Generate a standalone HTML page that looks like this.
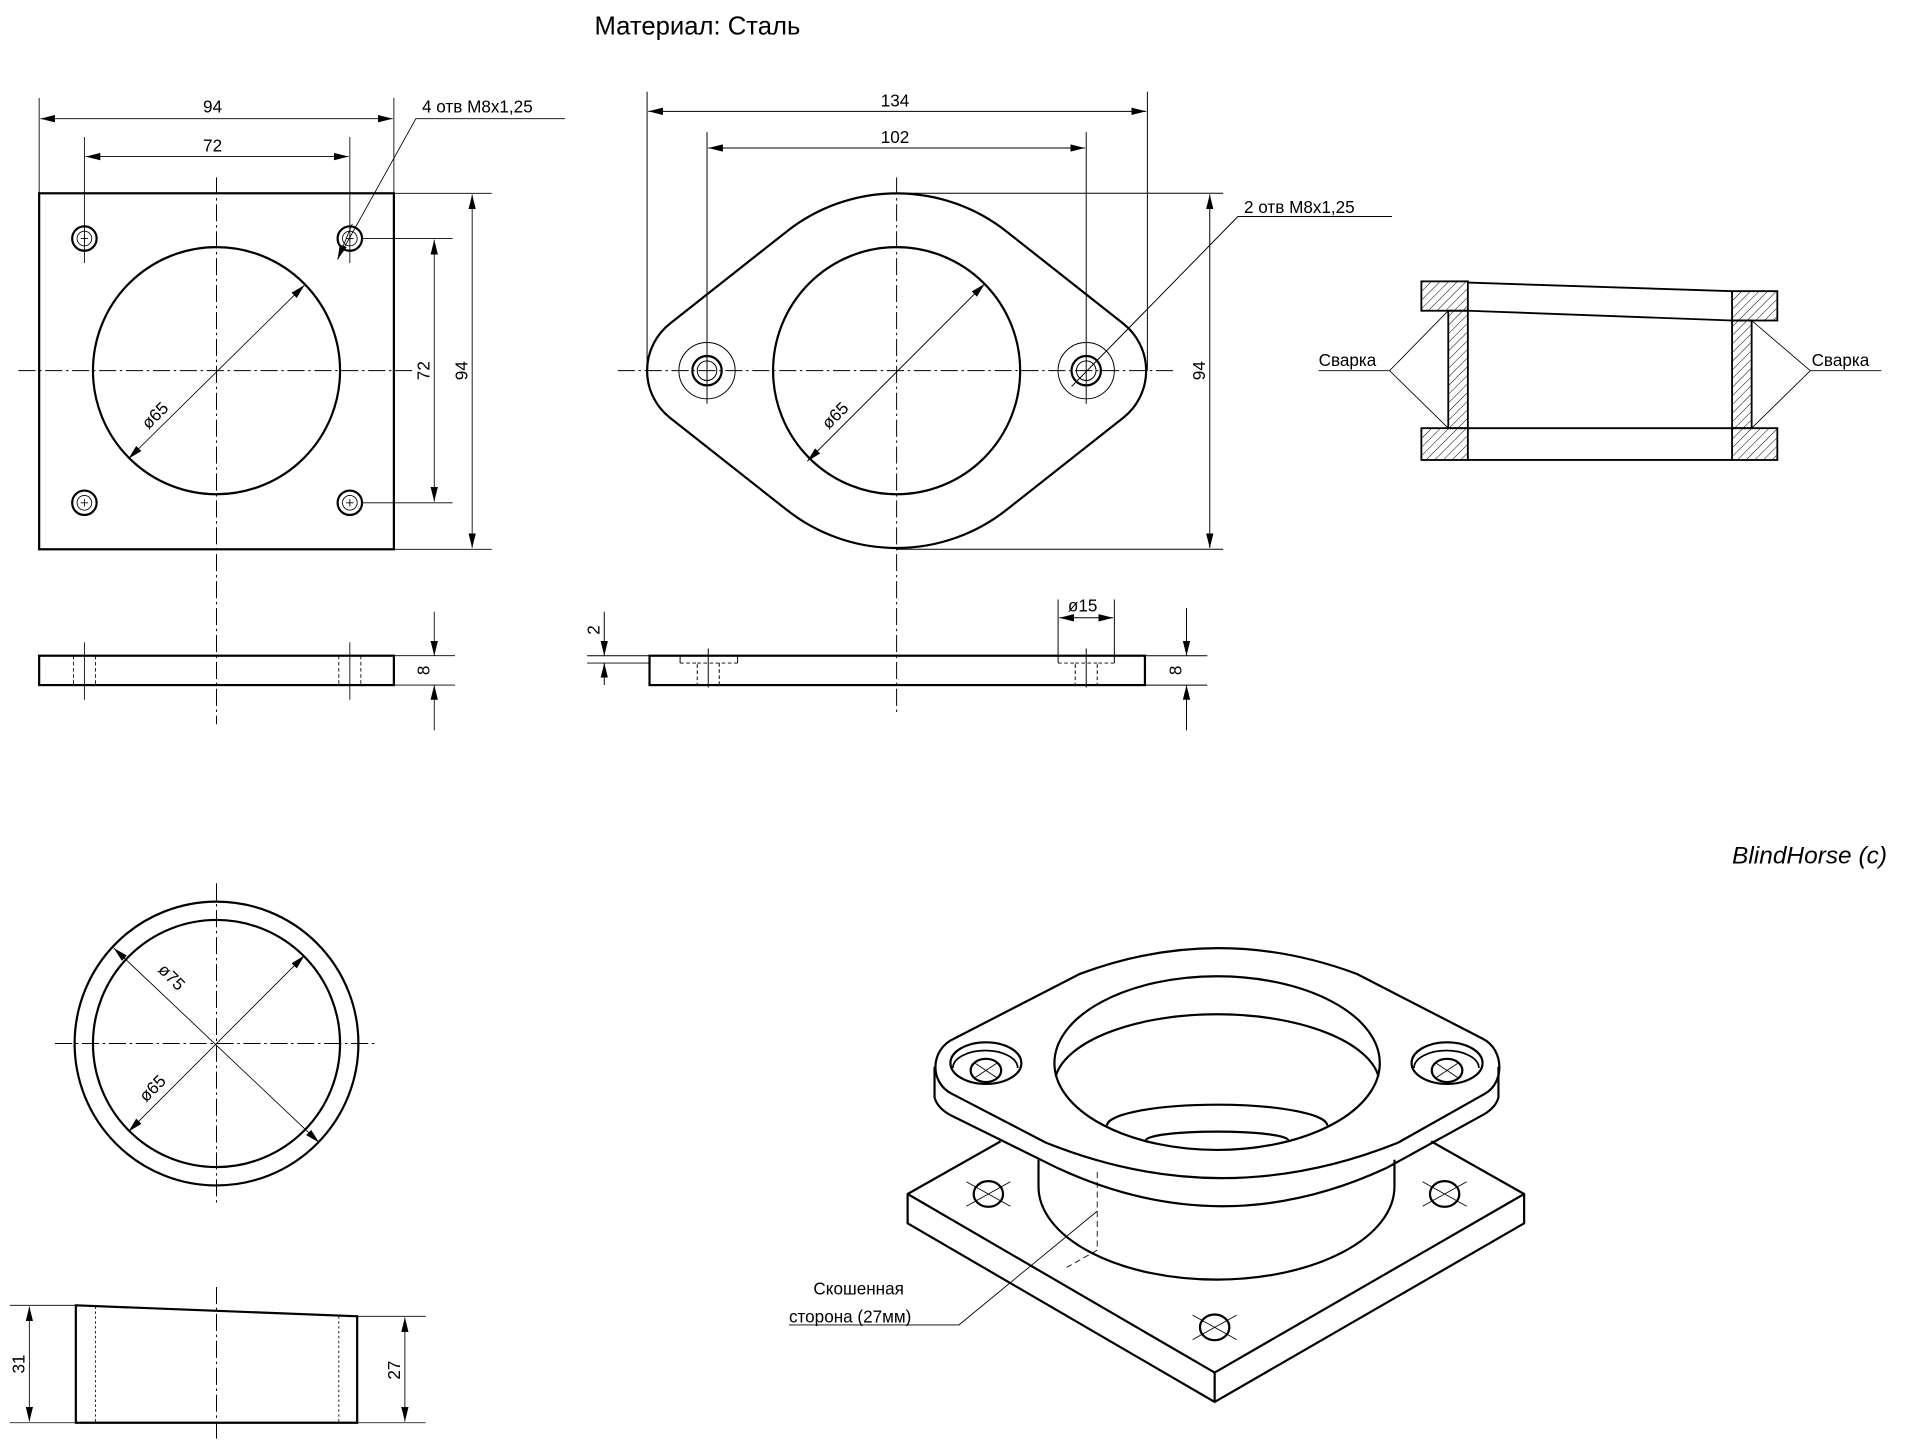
<!DOCTYPE html>
<html><head><meta charset="utf-8"><style>
html,body{margin:0;padding:0;background:#fff;width:1918px;height:1446px;overflow:hidden}
svg{display:block}
text{font-family:"Liberation Sans","DejaVu Sans",sans-serif;fill:#000}
</style></head><body>
<svg width="1918" height="1446" viewBox="0 0 1568 1182" preserveAspectRatio="none" xmlns="http://www.w3.org/2000/svg">
<defs>
<marker id="a" viewBox="0 0 12 6" refX="12" refY="3" markerWidth="12" markerHeight="6" orient="auto-start-reverse" markerUnits="userSpaceOnUse"><path d="M0,0 L12,3 L0,6 Z" fill="#000"/></marker>
<pattern id="h" patternUnits="userSpaceOnUse" width="5" height="5" patternTransform="rotate(45)"><line x1="0" y1="0" x2="0" y2="5" stroke="#000" stroke-width="0.8"/></pattern>
</defs>
<g fill="none" stroke="#000">
<g stroke-width="0.8" stroke-dasharray="14,3,2,3">
<line x1="15" y1="303" x2="340" y2="303"/><line x1="177" y1="145" x2="177" y2="592"/>
<line x1="505" y1="303" x2="962" y2="303"/><line x1="733" y1="145" x2="733" y2="585"/>
<line x1="45" y1="853" x2="308" y2="853"/><line x1="177" y1="722" x2="177" y2="985"/>
<line x1="177" y1="1052" x2="177" y2="1176"/>
</g>
<g stroke-width="1.8">
<rect x="32" y="158" width="290" height="291"/>
<circle cx="177" cy="303" r="101"/>
<circle cx="69" cy="195" r="10"/><circle cx="286" cy="195" r="10"/><circle cx="69" cy="411" r="10"/><circle cx="286" cy="411" r="10"/>
<rect x="32" y="536" width="290" height="24"/>
</g>
<g stroke-width="0.7">
<circle cx="69" cy="195" r="6"/><circle cx="286" cy="195" r="6"/><circle cx="69" cy="411" r="6"/><circle cx="286" cy="411" r="6"/>
<path d="M66,195h6M69,192v6M283,195h6M286,192v6M66,411h6M69,408v6M283,411h6M286,408v6"/>
<line x1="69" y1="112" x2="69" y2="215"/><line x1="286" y1="112" x2="286" y2="215"/>
<line x1="32" y1="80" x2="32" y2="158"/><line x1="322" y1="80" x2="322" y2="158"/>
<line x1="33" y1="97" x2="321" y2="97" marker-start="url(#a)" marker-end="url(#a)"/>
<line x1="70" y1="128" x2="285" y2="128" marker-start="url(#a)" marker-end="url(#a)"/>
<line x1="322" y1="158" x2="402" y2="158"/><line x1="322" y1="449" x2="402" y2="449"/>
<line x1="296" y1="195" x2="370" y2="195"/><line x1="296" y1="411" x2="370" y2="411"/>
<line x1="355" y1="196" x2="355" y2="410" marker-start="url(#a)" marker-end="url(#a)"/>
<line x1="386" y1="159" x2="386" y2="448" marker-start="url(#a)" marker-end="url(#a)"/>
<line x1="105" y1="375" x2="249" y2="233" marker-start="url(#a)" marker-end="url(#a)"/>
<polyline points="462,97 340,97 276,212" />
<line x1="288" y1="183" x2="276" y2="212" marker-end="url(#a)"/>
<g stroke-dasharray="3,2"><line x1="60" y1="536" x2="60" y2="560"/><line x1="78" y1="536" x2="78" y2="560"/><line x1="277" y1="536" x2="277" y2="560"/><line x1="295" y1="536" x2="295" y2="560"/></g>
<line x1="69" y1="525" x2="69" y2="572"/><line x1="286" y1="525" x2="286" y2="572"/>
<line x1="322" y1="536" x2="372" y2="536"/><line x1="322" y1="560" x2="372" y2="560"/>
<line x1="355" y1="500" x2="355" y2="536" marker-end="url(#a)"/><line x1="355" y1="597" x2="355" y2="560" marker-end="url(#a)"/>
</g>
<g stroke-width="1.8">
<path d="M547.7,264.5 L643.2,189.2 A145 145 0 0 1 822.8,189.2 L918.3,264.5 A49 49 0 0 1 918.3,341.5 L822.8,416.8 A145 145 0 0 1 643.2,416.8 L547.7,341.5 A49 49 0 0 1 547.7,264.5 Z"/>
<circle cx="733" cy="303" r="101"/>
<circle cx="578" cy="303" r="12"/><circle cx="888" cy="303" r="12"/>
<rect x="531" y="536" width="405" height="24"/>
</g>
<g stroke-width="0.8">
<circle cx="578" cy="303" r="23"/><circle cx="888" cy="303" r="23"/>
<circle cx="578" cy="303" r="8"/><circle cx="888" cy="303" r="8"/>
<line x1="529" y1="75" x2="529" y2="303"/><line x1="938" y1="75" x2="938" y2="303"/>
<line x1="530" y1="91" x2="937" y2="91" marker-start="url(#a)" marker-end="url(#a)"/>
<line x1="578" y1="108" x2="578" y2="330"/><line x1="888" y1="108" x2="888" y2="330"/>
<line x1="579" y1="121" x2="887" y2="121" marker-start="url(#a)" marker-end="url(#a)"/>
<line x1="733" y1="158" x2="1000" y2="158"/><line x1="733" y1="449" x2="1000" y2="449"/>
<line x1="989" y1="159" x2="989" y2="448" marker-start="url(#a)" marker-end="url(#a)"/>
<line x1="660" y1="377" x2="805" y2="232" marker-start="url(#a)" marker-end="url(#a)"/>
<polyline points="1138,177 1012,177 876,316"/>
<g stroke-dasharray="3,2">
<polyline points="556,542 570,542 570,560"/><polyline points="603,542 588,542 588,560"/><line x1="570" y1="542" x2="588" y2="542"/>
<polyline points="865,542 879,542 879,560"/><polyline points="911,542 897,542 897,560"/><line x1="879" y1="542" x2="897" y2="542"/>
</g>
<line x1="556" y1="536" x2="556" y2="542"/><line x1="603" y1="536" x2="603" y2="542"/>
<line x1="579" y1="530" x2="579" y2="562"/><line x1="888" y1="530" x2="888" y2="562"/>
<line x1="480" y1="536" x2="556" y2="536"/><line x1="480" y1="542" x2="531" y2="542"/>
<line x1="494" y1="500" x2="494" y2="536" marker-end="url(#a)"/><line x1="494" y1="560" x2="494" y2="542" marker-end="url(#a)"/>
<line x1="865" y1="490" x2="865" y2="542"/><line x1="911" y1="490" x2="911" y2="542"/>
<line x1="866" y1="505" x2="910" y2="505" marker-start="url(#a)" marker-end="url(#a)"/>
<line x1="936" y1="536" x2="987" y2="536"/><line x1="936" y1="560" x2="987" y2="560"/>
<line x1="970" y1="497" x2="970" y2="536" marker-end="url(#a)"/><line x1="970" y1="597" x2="970" y2="560" marker-end="url(#a)"/>
</g>
<g stroke-width="1.5">
<rect x="1162" y="230" width="38" height="24" fill="url(#h)"/>
<rect x="1416" y="238" width="37" height="24" fill="url(#h)"/>
<rect x="1184" y="254" width="16" height="96" fill="url(#h)"/>
<rect x="1416" y="262" width="16" height="88" fill="url(#h)"/>
<rect x="1162" y="350" width="38" height="26" fill="url(#h)"/>
<rect x="1416" y="350" width="37" height="26" fill="url(#h)"/>
<line x1="1200" y1="231" x2="1416" y2="238"/><line x1="1200" y1="254" x2="1416" y2="262"/>
<line x1="1200" y1="350" x2="1416" y2="350"/><line x1="1200" y1="376" x2="1416" y2="376"/>
</g>
<g stroke-width="0.7">
<polyline points="1078,303 1136,303 1184,254"/><line x1="1136" y1="303" x2="1184" y2="350"/>
<polyline points="1538,303 1480,303 1432,262"/><line x1="1480" y1="303" x2="1432" y2="350"/>
</g>
<g stroke-width="1.8"><circle cx="177" cy="853" r="116"/><circle cx="177" cy="853" r="101"/>
<polygon points="62,1067 292,1076 292,1163 62,1163"/></g>
<g stroke-width="0.7">
<line x1="93" y1="775" x2="261" y2="934" marker-start="url(#a)" marker-end="url(#a)"/>
<line x1="105" y1="925" x2="249" y2="781" marker-start="url(#a)" marker-end="url(#a)"/>
<g stroke-dasharray="2,2"><line x1="78" y1="1068" x2="78" y2="1163"/><line x1="277" y1="1076" x2="277" y2="1163"/></g>
<line x1="8" y1="1067" x2="62" y2="1067"/><line x1="8" y1="1163" x2="62" y2="1163"/>
<line x1="24" y1="1068" x2="24" y2="1162" marker-start="url(#a)" marker-end="url(#a)"/>
<line x1="292" y1="1076" x2="348" y2="1076"/><line x1="292" y1="1163" x2="348" y2="1163"/>
<line x1="331" y1="1077" x2="331" y2="1162" marker-start="url(#a)" marker-end="url(#a)"/>
</g>
<!-- isometric -->
<g stroke-width="1.8" stroke-linejoin="round">
<path d="M742,976 L993,1122 L1246,976 L1246,1000 L993,1146 L742,1000 Z"/>
<line x1="993" y1="1122" x2="993" y2="1146"/>
<path d="M742,976 L818,933 M1246,976 L1170,933"/>
<path d="M849,948 L849,970 A145.5 76 0 0 0 1140,970 L1140,948"/>
<path d="M780,849 L883,796 Q996,754 1109,796 L1212,849 C1230,858 1230,885 1214,894 L1143,934 Q999,992 855,934 L778,894 C760,885 760,858 780,849 Z" fill="#fff"/>
<path d="M764,872 L764,897 Q766,905 776,911 L865,955 Q999,1017 1133,955 L1213,911 Q1223,905 1225,897 L1225,872"/>
<ellipse cx="995" cy="869" rx="133" ry="71"/>
<path d="M863,880 A133 58 0 0 1 1127,880"/>
<path d="M905,920 A90 17 0 0 1 1085,920"/>
<path d="M937,932 A58 7 0 0 1 1053,932"/>
<ellipse cx="806" cy="869" rx="29" ry="17"/><ellipse cx="1183" cy="869" rx="29" ry="17"/>
<path d="M779,873 A26 14 0 0 1 832,873 M1156,873 A26 14 0 0 1 1209,873" stroke-width="1.4"/>
<ellipse cx="806" cy="875" rx="12.5" ry="9.5"/><ellipse cx="1183" cy="875" rx="12.5" ry="9.5"/>
<ellipse cx="808" cy="976" rx="12" ry="10.5"/><ellipse cx="1181" cy="976" rx="12" ry="10.5"/><ellipse cx="993" cy="1085" rx="12" ry="10.5"/>
</g>
<g stroke-width="0.7">
<path d="M790,966l36,20M826,966l-36,20M1163,966l36,20M1199,966l-36,20M975,1075l36,20M1011,1075l-36,20"/>
<path d="M797,869l18,12M815,869l-18,12M1174,869l18,12M1192,869l-18,12"/>
<line x1="897" y1="958" x2="897" y2="1022" stroke-dasharray="5,3"/>
<line x1="897" y1="1022" x2="872" y2="1036" stroke-dasharray="5,3"/>
<polyline points="645,1083 784,1083 897,990"/>
</g>
</g>
<text x="486" y="28" font-size="21">Материал: Сталь</text>
<text x="166" y="92" font-size="14">94</text>
<text x="166" y="124" font-size="14">72</text>
<text x="345" y="92" font-size="14">4 отв M8x1,25</text>
<text transform="translate(351,303) rotate(-90)" font-size="14" text-anchor="middle">72</text>
<text transform="translate(382,303) rotate(-90)" font-size="14" text-anchor="middle">94</text>
<text transform="translate(130,343) rotate(-45)" font-size="14" text-anchor="middle">ø65</text>
<text transform="translate(351,548) rotate(-90)" font-size="14" text-anchor="middle">8</text>
<text x="720" y="87" font-size="14">134</text>
<text x="720" y="117" font-size="14">102</text>
<text x="1017" y="174" font-size="14">2 отв M8x1,25</text>
<text transform="translate(985,303) rotate(-90)" font-size="14" text-anchor="middle">94</text>
<text transform="translate(686,343) rotate(-45)" font-size="14" text-anchor="middle">ø65</text>
<text transform="translate(490,515) rotate(-90)" font-size="14" text-anchor="middle">2</text>
<text x="873" y="500" font-size="14">ø15</text>
<text transform="translate(966,548) rotate(-90)" font-size="14" text-anchor="middle">8</text>
<text x="1078" y="299" font-size="14">Сварка</text>
<text x="1481" y="299" font-size="14">Сварка</text>
<text x="1416" y="706" font-size="20" font-style="italic">BlindHorse (c)</text>
<text transform="translate(137,802) rotate(45)" font-size="14" text-anchor="middle">ø75</text>
<text transform="translate(128,893) rotate(-45)" font-size="14" text-anchor="middle">ø65</text>
<text transform="translate(20,1115) rotate(-90)" font-size="14" text-anchor="middle">31</text>
<text transform="translate(327,1120) rotate(-90)" font-size="14" text-anchor="middle">27</text>
<text x="665" y="1058" font-size="14">Скошенная</text>
<text x="645" y="1081" font-size="14">сторона (27мм)</text>
</svg>
</body></html>
